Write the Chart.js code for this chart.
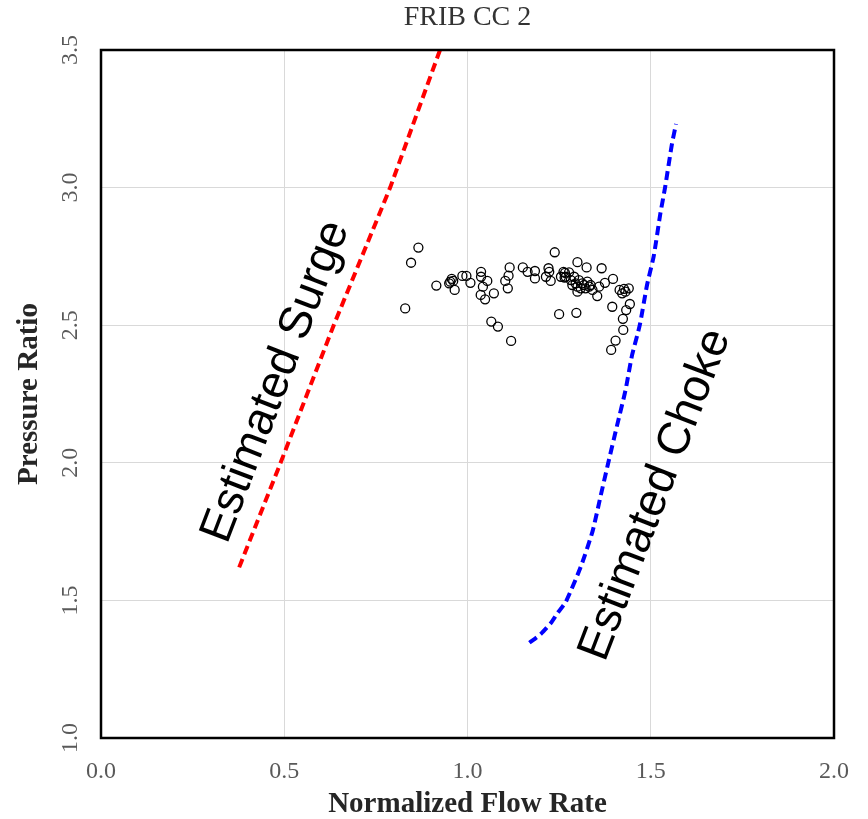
<!DOCTYPE html>
<html>
<head>
<meta charset="utf-8">
<script src="https://cdn.jsdelivr.net/npm/chart.js@4.4.0/dist/chart.umd.min.js"></script>
<style>
  html, body { margin: 0; padding: 0; background: #ffffff; }
  #wrap { width: 868px; height: 819px; }
</style>
</head>
<body>
<div id="wrap"><canvas id="c" width="868" height="819"></canvas></div>
<script>
// ---- Data ----
const chartTitle = "FRIB CC 2";
const xAxisTitle = "Normalized Flow Rate";
const yAxisTitle = "Pressure Ratio";

const xTicks = [0.0, 0.5, 1.0, 1.5, 2.0];
const yTicks = [1.0, 1.5, 2.0, 2.5, 3.0, 3.5];

// measured operating points
const pointsX = [0.866,0.846,0.830,0.915,0.953,0.957,0.950,0.961,0.965,0.986,0.997,1.008,
  1.037,1.037,1.054,1.042,1.036,1.048,1.072,1.065,1.083,1.119,1.115,1.112,1.103,1.110,
  1.151,1.164,1.184,1.184,1.214,1.221,1.227,1.223,1.238,1.250,1.255,1.262,1.265,1.300,
  1.325,1.366,1.266,1.268,1.277,1.282,1.291,1.295,1.300,1.304,1.309,1.313,1.318,1.322,
  1.327,1.332,1.336,1.341,1.300,1.286,1.359,1.354,1.375,1.397,1.297,1.395,1.415,1.422,
  1.431,1.440,1.427,1.443,1.433,1.424,1.425,1.404,1.392];
const pointsY = [2.782,2.727,2.561,2.644,2.658,2.668,2.652,2.661,2.628,2.679,2.679,2.654,
  2.694,2.676,2.661,2.640,2.610,2.594,2.616,2.513,2.495,2.443,2.710,2.680,2.661,2.634,
  2.710,2.694,2.697,2.670,2.676,2.707,2.661,2.694,2.765,2.540,2.676,2.694,2.673,2.729,
  2.710,2.707,2.690,2.676,2.692,2.664,2.676,2.652,2.640,2.664,2.634,2.652,2.646,2.634,
  2.658,2.640,2.646,2.628,2.622,2.646,2.640,2.606,2.654,2.668,2.545,2.567,2.628,2.616,
  2.622,2.634,2.632,2.577,2.555,2.523,2.483,2.444,2.410];

// estimated surge line
const surgeX = [0.377, 0.490, 0.635, 0.789, 0.925];
const surgeY = [1.62, 2.00, 2.50, 3.00, 3.50];

// estimated choke line
const chokeX = [1.169, 1.200, 1.227, 1.246, 1.268, 1.309, 1.341, 1.363, 1.383, 1.408,
  1.431, 1.449, 1.470, 1.490, 1.508, 1.526, 1.539, 1.558, 1.569];
const chokeY = [1.346, 1.378, 1.417, 1.455, 1.494, 1.622, 1.750, 1.878, 1.994, 2.135,
  2.263, 2.391, 2.500, 2.647, 2.750, 2.904, 3.000, 3.160, 3.231];

// in-plot labels (anchor in data coordinates)
const surgeLabel = { text: "Estimated Surge", x: 0.510, y: 2.278 };
const chokeLabel = { text: "Estimated Choke", x: 1.5455, y: 1.867 };

// ---- build datasets ----
const zip = (xs, ys) => xs.map((x, i) => ({ x: x, y: ys[i] }));

const frameAndLabels = {
  id: 'frameAndLabels',
  afterDatasetsDraw(chart) {
    const ctx = chart.ctx;
    const xs = chart.scales.x, ys = chart.scales.y;
    ctx.save();
    ctx.fillStyle = '#000000';
    ctx.font = '46px "Liberation Sans", Arial, sans-serif';
    ctx.textAlign = 'center';
    ctx.textBaseline = 'alphabetic';
    [surgeLabel, chokeLabel].forEach(l => {
      ctx.save();
      ctx.translate(xs.getPixelForValue(l.x), ys.getPixelForValue(l.y));
      ctx.rotate(-69 * Math.PI / 180);
      ctx.fillText(l.text, 0, 0);
      ctx.restore();
    });
    const a = chart.chartArea;
    ctx.strokeStyle = '#000000';
    ctx.lineWidth = 2.5;
    ctx.strokeRect(a.left, a.top, a.right - a.left, a.bottom - a.top);
    // chart title, centred over the plot area
    ctx.fillStyle = '#333333';
    ctx.font = '28px "Liberation Serif", "Times New Roman", serif';
    ctx.textAlign = 'center';
    ctx.textBaseline = 'middle';
    ctx.fillText(chartTitle, (a.left + a.right) / 2, 18);
    ctx.restore();
  }
};

const tickFont = { family: '"Liberation Serif", "Times New Roman", serif', size: 24 };
const axisTitleFont = { family: '"Liberation Serif", "Times New Roman", serif', size: 29, weight: 'bold', lineHeight: 1.0 };

new Chart(document.getElementById('c'), {
  type: 'scatter',
  data: {
    datasets: [
      {
        label: 'Data',
        data: zip(pointsX, pointsY),
        showLine: false,
        pointStyle: 'circle',
        pointRadius: 4.5,
        pointBorderWidth: 1.3,
        borderColor: '#000000',
        backgroundColor: 'rgba(0,0,0,0)',
        order: 1
      },
      {
        label: 'Estimated Surge',
        data: zip(surgeX, surgeY),
        showLine: true,
        pointRadius: 0,
        borderColor: '#ff0000',
        borderWidth: 4,
        borderDash: [9, 5],
        fill: false,
        order: 2
      },
      {
        label: 'Estimated Choke',
        data: zip(chokeX, chokeY),
        showLine: true,
        pointRadius: 0,
        borderColor: '#0000ff',
        borderWidth: 4,
        borderDash: [9, 5],
        tension: 0.2,
        fill: false,
        order: 3
      }
    ]
  },
  options: {
    responsive: false,
    animation: false,
    layout: { padding: { left: 0, right: 30, top: 50, bottom: 0 } },
    plugins: {
      legend: { display: false },
      tooltip: { enabled: false },
      title: { display: false }
    },
    scales: {
      x: {
        type: 'linear',
        min: 0, max: 2,
        afterBuildTicks: s => { s.ticks = xTicks.map(v => ({ value: v })); },
        afterFit: s => { s.height = 81; },
        ticks: {
          font: tickFont, color: '#595959', padding: 19,
          callback: v => Number(v).toFixed(1)
        },
        grid: { color: '#d9d9d9', lineWidth: 1, drawTicks: false },
        border: { display: false },
        title: { display: true, text: xAxisTitle, font: axisTitleFont, color: '#262626', padding: { top: 0, bottom: 0 } }
      },
      y: {
        type: 'linear',
        min: 1, max: 3.5,
        afterBuildTicks: s => { s.ticks = yTicks.map(v => ({ value: v })); },
        afterFit: s => { s.width = 101; },
        ticks: {
          font: tickFont, color: '#595959', padding: 15,
          minRotation: 90, maxRotation: 90, crossAlign: 'center',
          callback: v => Number(v).toFixed(1)
        },
        grid: { color: '#d9d9d9', lineWidth: 1, drawTicks: false },
        border: { display: false },
        title: { display: true, text: yAxisTitle, font: axisTitleFont, color: '#262626', padding: { top: 15.5, bottom: 0 } }
      }
    }
  },
  plugins: [frameAndLabels]
});
</script>
</body>
</html>
